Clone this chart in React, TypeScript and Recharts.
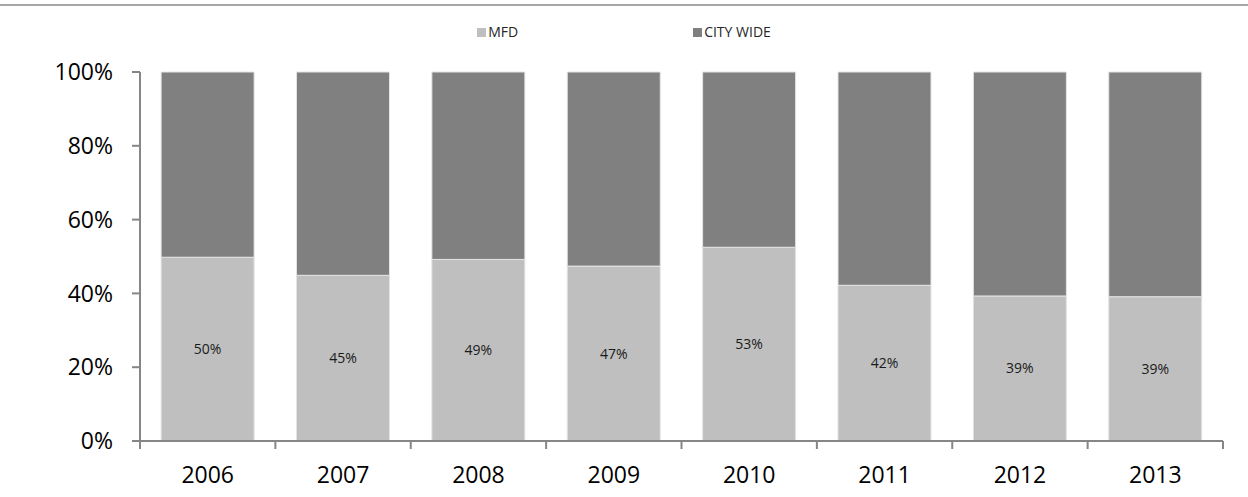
import React from "react";
import { BarChart, Bar, XAxis, YAxis, LabelList } from "recharts";

const years = ["2006", "2007", "2008", "2009", "2010", "2011", "2012", "2013"];
const mfd = [49.8, 44.9, 49.2, 47.4, 52.5, 42.2, 39.3, 39.1];
const cityWide = mfd.map((v) => 100 - v);
const yTicks = [0, 20, 40, 60, 80, 100];
const seriesNames = ["MFD", "CITY WIDE"];
const seriesColors = ["#bfbfbf", "#808080"];

const data = years.map((y, i) => ({ year: y, mfd: mfd[i], city: cityWide[i] }));

const FONT = "'Open Sans', sans-serif";
const AXIS = "#868686";
const TICK_SIZE = 8;
const TICK_MARGIN = 18;

const XTick = (props: any) => {
  const { x, y, payload, index, width } = props;
  const half = width / years.length / 2;
  const axisY = y - TICK_SIZE - TICK_MARGIN;
  return (
    <g>
      <line x1={x - half} x2={x - half} y1={axisY} y2={axisY + TICK_SIZE} stroke={AXIS} strokeWidth={2} />
      {index === years.length - 1 && (
        <line x1={x + half} x2={x + half} y1={axisY} y2={axisY + TICK_SIZE} stroke={AXIS} strokeWidth={2} />
      )}
      <text x={x} y={y} dy="0.71em" textAnchor="middle" fontFamily={FONT} fontSize={23} fill="#000">
        {payload.value}
      </text>
    </g>
  );
};

export default function App() {
  return (
    <div style={{ position: "absolute", left: 0, top: 0, width: 1248, height: 497, background: "#fff" }}>
      <div style={{ position: "absolute", left: 0, top: 4, width: 1248, height: 2, background: "#a6a6a6" }} />
      <div
        style={{
          position: "absolute",
          left: 0,
          top: 24,
          width: 1248,
          display: "flex",
          justifyContent: "center",
          gap: 175,
          fontFamily: FONT,
          fontSize: 14,
          color: "#262626",
        }}
      >
        {seriesNames.map((n, i) => (
          <div key={n} style={{ display: "flex", alignItems: "center" }}>
            <span style={{ display: "inline-block", width: 9, height: 9, background: seriesColors[i], marginRight: 2 }} />
            <span style={{ lineHeight: "16px" }}>{n}</span>
          </div>
        ))}
      </div>
      <BarChart
        width={1248}
        height={497}
        data={data}
        margin={{ top: 72, right: 25, bottom: 26, left: 0 }}
        barCategoryGap="15.6%"
      >
        <XAxis
          dataKey="year"
          height={30}
          axisLine={{ stroke: AXIS, strokeWidth: 2 }}
          tickLine={false}
          tickSize={TICK_SIZE}
          tickMargin={TICK_MARGIN}
          interval={0}
          tick={<XTick />}
        />
        <YAxis
          width={140}
          domain={[0, 100]}
          ticks={yTicks}
          interval={0}
          tickFormatter={(v: number) => `${v}%`}
          axisLine={{ stroke: AXIS, strokeWidth: 2 }}
          tickLine={{ stroke: AXIS, strokeWidth: 2 }}
          tickSize={8}
          tickMargin={19}
          tick={{ fontFamily: FONT, fontSize: 23, fill: "#000" }}
        />
        <Bar dataKey="mfd" name={seriesNames[0]} stackId="a" fill={seriesColors[0]} stroke="#e4e4e4" strokeWidth={1} isAnimationActive={false}>
          <LabelList
            dataKey="mfd"
            position="center"
            formatter={(v: any) => `${Math.round(Number(v))}%`}
            style={{ fontFamily: FONT, fontSize: 14, fill: "#1a1a1a" }}
          />
        </Bar>
        <Bar dataKey="city" name={seriesNames[1]} stackId="a" fill={seriesColors[1]} stroke="#e4e4e4" strokeWidth={1} isAnimationActive={false} />
      </BarChart>
    </div>
  );
}
